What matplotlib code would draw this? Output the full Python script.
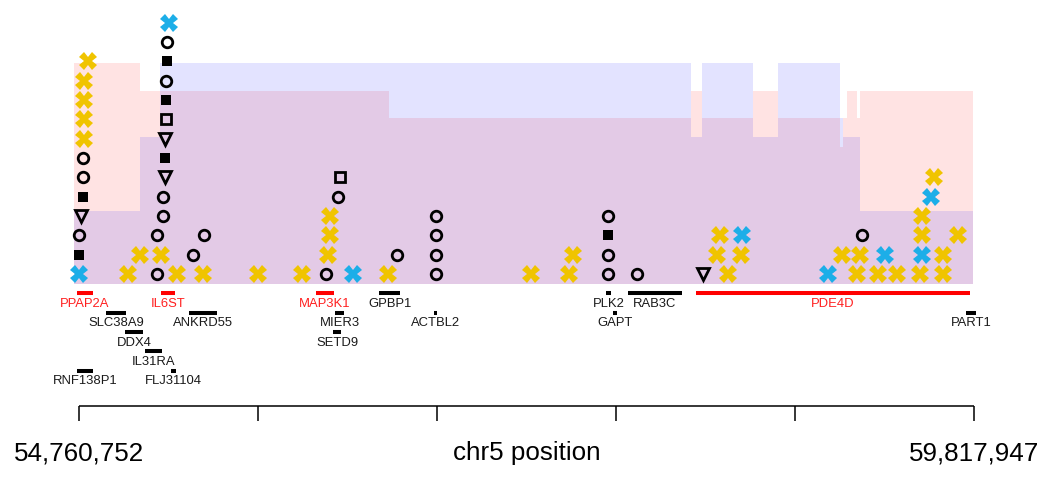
import matplotlib
matplotlib.use('Agg')
import matplotlib.pyplot as plt
import numpy as np

plt.rcParams['font.family'] = ['Liberation Sans', 'DejaVu Sans']

# ---------------- data ----------------
X_START = 54760752
X_END = 59817947

# variant markers: genomic position and stack row
yellow_x_pos = [54789005, 54789005, 54789005, 54789005, 54811607, 55224093, 55037627, 55105433,
                55314501, 55461414, 55772192, 56020814, 56167727, 56179028, 56179028, 56506757,
                57314779, 57529498, 57552099, 58427927, 58365771, 58382723, 58501383, 59072084,
                59156841, 59173793, 59275502, 59382861, 59512823, 59524124, 59524124, 59591930,
                59642784, 59642784, 59727542]
yellow_x_row = [7, 8, 9, 10, 11, 1, 0, 1,
                0, 0, 0, 0, 1, 2, 3, 0,
                0, 0, 1, 0, 1, 2, 1, 1,
                0, 1, 0, 0, 0, 2, 3, 5,
                1, 0, 2]

blue_x_pos = [54760752, 55269297, 56308989, 58507034, 58992977, 59315055, 59524124, 59574978]
blue_x_row = [0, 13, 0, 2, 0, 1, 1, 4]

circle_pos = [54760752, 54783354, 54783354, 55201491, 55201491, 55235394, 55235394, 55252346,
              55257996, 55404909, 55467064, 56156426, 56224232, 56557611, 56777981, 56777981,
              56777981, 56777981, 57749867, 57749867, 57749867, 57913731, 59185094]
circle_row = [2, 5, 6, 0, 2, 3, 4, 10,
              12, 1, 2, 0, 4, 1, 0, 1,
              2, 3, 0, 1, 3, 0, 2]

fsquare_pos = [54760752, 54783354, 55246695, 55252346, 55257996, 57749867]
fsquare_row = [1, 4, 6, 9, 11, 2]

osquare_pos = [55252346, 56235533]
osquare_row = [8, 5]

triangle_pos = [54772053, 55246695, 55246695, 58286664]
triangle_row = [3, 5, 7, 0]

# background tracks (step levels, fraction of track height)
track_edges = [54735000, 55105433, 55218443, 56512407, 58218858, 58281014, 58569189,
               58710452, 59060783, 59077734, 59100336, 59156841, 59173793, 59812299]
track_a = [1.0, 0.873, 0.873, 0.751, 0.873, 0.751, 0.873, 0.751, 0.62, 0.751, 0.873, 0.751, 0.873]
track_b = [0.330, 0.665, 1.0, 1.0, 0.665, 1.0, 0.665, 1.0, 0.751, 0.665, 0.665, 0.665, 0.330]

# genes
gene_names = ['PPAP2A', 'IL6ST', 'MAP3K1', 'GPBP1', 'PLK2', 'RAB3C', 'PDE4D',
              'SLC38A9', 'ANKRD55', 'MIER3', 'ACTBL2', 'GAPT', 'PART1',
              'DDX4', 'SETD9', 'IL31RA', 'RNF138P1', 'FLJ31104']
gene_start = [54749451, 55224093, 56099921, 56455902, 57738566, 57862877, 58247111,
              54913316, 55382307, 56207280, 56766680, 57778119, 59772746,
              55020675, 56195979, 55133685, 54749451, 55280598]
gene_end = [54839859, 55303200, 56201630, 56574563, 57766818, 58168004, 59795348,
            55026326, 55540521, 56258135, 56783631, 57800721, 59829251,
            55122384, 56241183, 55229744, 54839859, 55308851]
gene_level = [1, 1, 1, 1, 1, 1, 1,
              2, 2, 2, 2, 2, 2,
              3, 3, 4, 5, 5]
gene_highlight = [True, True, True, False, False, False, True,
                  False, False, False, False, False, False,
                  False, False, False, False, False]

axis_title = 'chr5 position'
n_ticks = 6

# ---------------- figure ----------------
W, H = 1045, 478
fig = plt.figure(figsize=(W / 100, H / 100), dpi=100)

# pixel mapping used for layout only
bp_per_px = (X_END - X_START) / 895.0
xlim = (X_START - 79 * bp_per_px, X_START + (W - 79) * bp_per_px)

ax = fig.add_axes([0, 0, 1, 1])
ax.set_xlim(*xlim)
ax.set_ylim(-0.878, 1.285)
ax.axis('off')

ax.stairs(track_a, track_edges, baseline=0, fill=True, color=(1, 0, 0, 0.11), linewidth=0)
ax.stairs(track_b, track_edges, baseline=0, fill=True, color=(0, 0, 1, 0.11), linewidth=0)

axm = ax.twinx()
axm.set_position([0, 0, 1, 1])
axm.set_xlim(*xlim)
axm.set_ylim(-10.553, 14.175)
axm.axis('off')

YEL = '#F0C400'
BLU = '#1CAEE8'
axm.plot(yellow_x_pos, yellow_x_row, linestyle='none', marker='X', ms=12.8, color=YEL, mew=0, zorder=3)
axm.plot(blue_x_pos, blue_x_row, linestyle='none', marker='X', ms=12.8, color=BLU, mew=0, zorder=3)
axm.plot(circle_pos, circle_row, linestyle='none', marker='o', ms=7.6, mfc='none', mec='black', mew=2.0, zorder=4)
axm.plot(fsquare_pos, fsquare_row, linestyle='none', marker='s', ms=7.3, color='black', mew=0, zorder=4)
axm.plot(osquare_pos, osquare_row, linestyle='none', marker='s', ms=7.3, mfc='none', mec='black', mew=2.0, zorder=4)
axm.plot(triangle_pos, triangle_row, linestyle='none', marker='v', ms=8.5, mfc='none', mec='black', mew=2.0, zorder=4)

# gene track
for name, s, e, lv, hl in zip(gene_names, gene_start, gene_end, gene_level, gene_highlight):
    col = '#FF0000' if hl else 'black'
    axm.plot([s, e], [-lv, -lv], color=col, lw=2.9, solid_capstyle='butt', zorder=2)
    axm.text((s + e) / 2, -lv - 0.56, name, color=('#FF2020' if hl else '#1A1A1A'),
             fontsize=9.4, ha='center', va='center')

# bottom axis
ticks = np.linspace(X_START, X_END, n_ticks)
axm.plot([X_START, X_END], [-6.83, -6.83], color='black', lw=1.1, solid_capstyle='butt')
axm.vlines(ticks, -7.62, -6.83, color='black', lw=1.1)
axm.text(X_START, -9.27, f'{X_START:,}', fontsize=18.7, ha='center', va='center')
axm.text(X_END, -9.27, f'{X_END:,}', fontsize=18.7, ha='center', va='center')
axm.text((X_START + X_END) / 2, -9.27, axis_title, fontsize=18.7, ha='center', va='center')

fig.savefig('out.png', dpi=100)
